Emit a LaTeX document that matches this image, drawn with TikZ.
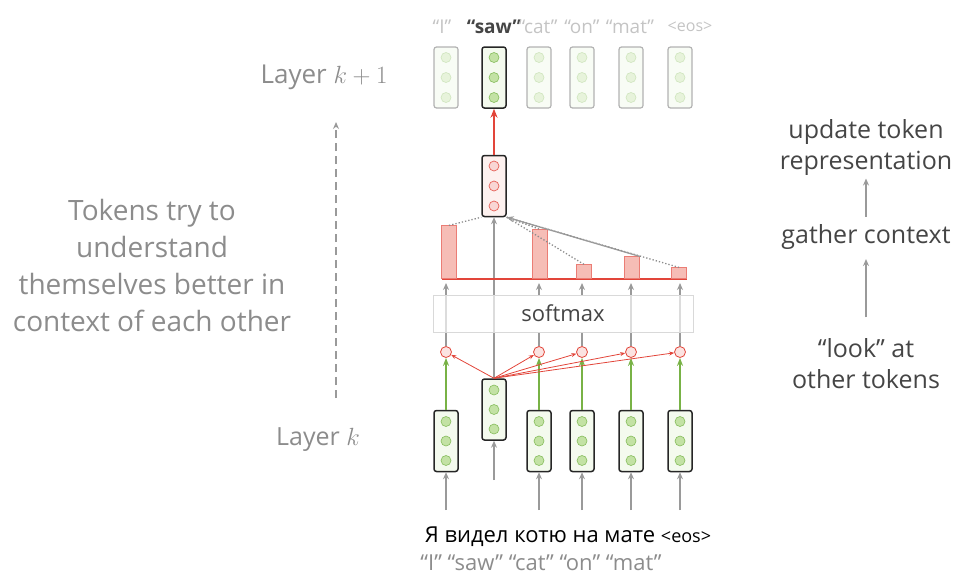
\documentclass[tikz,border=0pt]{standalone}
\usepackage{fontspec}
\setmainfont{Open Sans}
\usetikzlibrary{arrows.meta}

\definecolor{vecfill}{HTML}{F4FAEE}
\definecolor{dotgreen}{HTML}{C3E2A4}
\definecolor{dotedge}{HTML}{86BD5C}
\definecolor{attred}{HTML}{E2453A}
\definecolor{attfill}{HTML}{F6BDB6}
\definecolor{attpale}{HTML}{FDF1EF}
\definecolor{arrgray}{HTML}{9A9A9A}
\definecolor{txtgray}{HTML}{8C8C8C}
\definecolor{txtpale}{HTML}{C4C4C4}
\definecolor{txtdark}{HTML}{454545}
\definecolor{arrgreen}{HTML}{78B246}

\tikzset{
  vecbox/.style={draw=black!85, line width=1.5pt, rounded corners=2.5pt, fill=vecfill,
    minimum width=24pt, minimum height=61pt, inner sep=0pt},
  fadebox/.style={vecbox, draw=black!30, line width=1.2pt, fill=vecfill!60},
  dot/.style={circle, draw=dotedge, fill=dotgreen, minimum size=10pt, inner sep=0pt, line width=0.6pt},
  fadedot/.style={dot, draw=dotedge!40, fill=dotgreen!40},
  reddot/.style={circle, draw=attred!85, fill=attred!22, minimum size=10pt, inner sep=0pt, line width=0.7pt},
  score/.style={circle, draw=attred, fill=attred!15, minimum size=11pt, inner sep=0pt, line width=0.8pt},
  bar/.style={draw=attred!70, fill=attfill, minimum width=15pt, inner sep=0pt, line width=0.6pt},
  grayarr/.style={-{Stealth[length=7pt,width=6pt]}, arrgray, line width=1.6pt},
  greenarr/.style={-{Stealth[length=8pt,width=6pt]}, arrgreen, line width=2pt},
  redarr/.style={-{Stealth[length=5pt,width=4pt]}, attred, line width=0.8pt},
  dotline/.style={black!45, line width=1.3pt, dotted},
  side/.style={txtdark, font=\fontsize{25}{31}\selectfont, align=center},
  tok/.style={txtpale, font=\fontsize{19}{19}\selectfont}
}

\begin{document}
\begin{tikzpicture}[x=1pt,y=-1pt]
  \useasboundingbox (0,0) rectangle (974,582);

  % layer k
  \foreach \i/\x in {1/446,3/539,4/582,5/631,6/680}{
    \node[vecbox] (low\i) at (\x,441) {};
    \foreach \d in {-19.5,0,19.5}
      \node[dot] at (\x,441+\d) {};
    \coordinate (in\i) at (\x,510);
    \coordinate (foot\i) at (\x,283);
    \node[score] (s\i) at (\x,352) {};
  }
  \node[vecbox] (low2) at (494,409.5) {};
  \foreach \d in {-19.5,0,19.5}
    \node[dot] at (494,409.5+\d) {};
  \coordinate (in2) at (494,480);

  % context vector
  \node[vecbox, fill=attpale] (ctx) at (494,186) {};
  \foreach \d in {-20,0,20}
    \node[reddot] at (494,186+\d) {};

  % layer k+1
  \foreach \i/\x in {1/446,3/539,4/582,5/631,6/680}{
    \node[fadebox] (up\i) at (\x,77.5) {};
    \foreach \d in {-20,0,20}
      \node[fadedot] at (\x,77.5+\d) {};
  }
  \node[vecbox] (up2) at (494,77.5) {};
  \foreach \d in {-20,0,20}
    \node[dot] at (494,77.5+\d) {};

  % arrows between the layers
  \foreach \i in {1,3,4,5,6}{
    \draw[grayarr] (in\i) -- (low\i);
    \draw[greenarr] (low\i) -- (s\i);
    \draw[grayarr] (s\i) -- (foot\i);
  }
  \draw[grayarr] (in2) -- (low2);
  \draw[grayarr] (low2) -- (ctx);

  % softmax covers the lines
  \node[draw=black!15, line width=0.8pt, fill=white,
    minimum width=260pt, minimum height=37pt] (soft) at (563,313.5) {};
  \foreach \i in {1,5,6}
    \draw[arrgray!35, line width=1.6pt] (s\i |- soft.south) -- (s\i |- soft.north);
  \draw[arrgray!35, line width=1.6pt] (low2 |- soft.south) -- (low2 |- soft.north);
  \node[txtdark, font=\fontsize{22}{22}\selectfont] (softlbl) at (soft) {softmax};

  \foreach \i in {1,3,4,5,6}
    \draw[redarr] (low2.north) -- (s\i);

  % attention weights
  \draw[attred, line width=1.2pt] (442,279) -- (687,279);
  \foreach \i/\x/\h in {1/449/53,3/540/49,4/584/14,5/632/22,6/679/11}
    \node[bar, minimum height=\h pt, anchor=south] (bar\i) at (\x,279) {};

  \draw[dotline] (bar1.north) -- (ctx.south west);
  \foreach \i in {3,4,6}
    \draw[dotline] (ctx.south east) -- (bar\i.north);
  \draw[grayarr, line width=1.3pt] (bar5.north east) -- (ctx.south east);

  \draw[-{Stealth[length=9pt,width=7pt]}, attred, line width=1.8pt] (ctx) -- (up2);

  % token labels
  \node[tok] (t1) at (442,27) {“I”};
  \node[tok, txtdark, font=\fontsize{19}{19}\selectfont\bfseries] (t2) at (494,27) {“saw”};
  \node[tok] (t3) at (538,27) {“cat”};
  \node[tok] (t4) at (582,27) {“on”};
  \node[tok] (t5) at (630,27) {“mat”};
  \node[tok, font=\fontsize{16}{16}\selectfont] (t6) at (690,27) {<eos>};

  \node[black, font=\fontsize{22}{22}\selectfont] (ru) at (568,537)
    {Я видел котю на мате {\fontsize{18}{18}\selectfont<eos>}};
  \node[txtgray, font=\fontsize{22}{22}\selectfont] (en) at (541,563)
    {“I” “saw” “cat” “on” “mat”};

  % left side
  \node[txtgray, font=\fontsize{26}{26}\selectfont] (lk1) at (324,77) {Layer $k+1$};
  \node[txtgray, font=\fontsize{25}{25}\selectfont] (lk) at (318,440) {Layer $k$};
  \coordinate (dash0) at (336,398);
  \coordinate (dash1) at (336,122);
  \draw[grayarr, dash pattern=on 8pt off 5pt] (dash0) -- (dash1);
  \node[txtgray, align=center, font=\fontsize{28}{37}\selectfont] (note) at (152,265)
    {Tokens try to\\understand\\themselves better in\\context of each other};

  % right side
  \node[side] (upd) at (866,147) {update token\\representation};
  \node[side] (gat) at (866,237) {gather context};
  \node[side] (look) at (866,364) {“look” at\\other tokens};
  \draw[grayarr, line width=1.3pt, shorten <=18pt, shorten >=6pt] (look) -- (gat);
  \draw[grayarr, line width=1.3pt, shorten <=4pt] (gat) -- (upd);
\end{tikzpicture}
\end{document}
